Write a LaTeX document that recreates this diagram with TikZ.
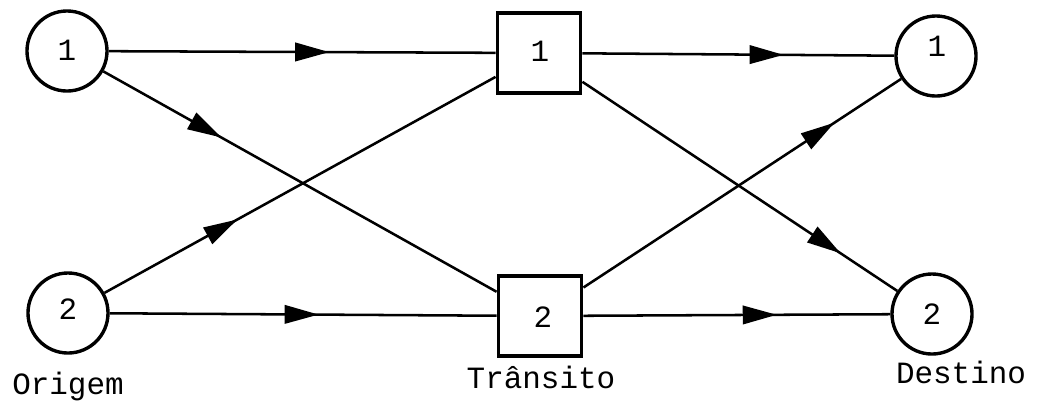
\documentclass[tikz,border=0pt]{standalone}
\usepackage{fontspec}
\setmonofont{Liberation Mono}
\usetikzlibrary{arrows.meta,decorations.markings}
\begin{document}
\begin{tikzpicture}[x=0.025cm,y=-0.025cm,
  every node/.style={font=\ttfamily\fontsize{22}{26}\selectfont},
  stop/.style={circle,draw,line width=2.4pt,minimum size=2cm,inner sep=0pt},
  hub/.style={rectangle,draw,line width=2.6pt,minimum width=2.08cm,minimum height=2cm,inner sep=0pt},
  caption/.style={inner sep=0pt},
  link/.style={line width=1.8pt,postaction={decorate},
    decoration={markings,mark=at position #1 with {\arrow{Triangle[length=0.85cm,width=0.46cm]}}}}
]
\useasboundingbox (0,0) rectangle (1039,404);

% origins
\node[stop] (o1) at (67,51) {};
\node at (67,50) {1};
\node[stop] (o2) at (68,313) {};
\node at (68,309) {2};

% transit points
\node[hub] (t1) at (539,53) {};
\node at (540,51) {1};
\node[hub] (t2) at (540,316) {};
\node at (543,317) {2};

% destinations
\node[stop] (d1) at (936,56) {};
\node at (937,46) {1};
\node[stop] (d2) at (932,314) {};
\node at (932,314) {2};

% captions
\node[caption] at (68,386) {Origem};
\node[caption] at (541,377) {Trânsito};
\node[caption] at (961,372) {Destino};

% flows
\draw[link=0.57] (o1) -- (t1);
\draw[link=0.30] (o1) -- (t2);
\draw[link=0.34] (o2) -- (t1);
\draw[link=0.54] (o2) -- (t2);
\draw[link=0.645] (t1) -- (d1);
\draw[link=0.82] (t1) -- (d2);
\draw[link=0.79] (t2) -- (d1);
\draw[link=0.63] (t2) -- (d2);
\end{tikzpicture}
\end{document}
